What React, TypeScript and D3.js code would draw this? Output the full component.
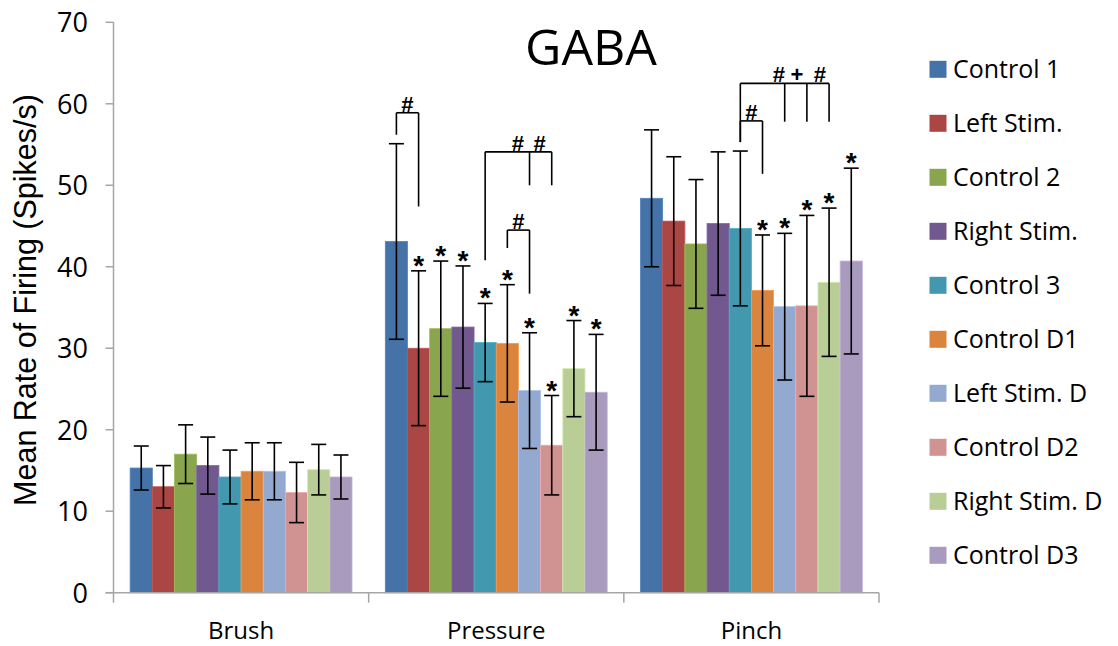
import React, { useEffect } from 'react';
import * as d3 from 'd3';

// categories / series
const categories = ['Brush', 'Pressure', 'Pinch'];
const seriesNames = [
  'Control 1', 'Left Stim.', 'Control 2', 'Right Stim.', 'Control 3',
  'Control D1', 'Left Stim. D', 'Control D2', 'Right Stim. D', 'Control D3',
];
const seriesColors = [
  '#4572A7', '#AA4643', '#89A54E', '#71588F', '#4198AF',
  '#DB843D', '#93A9CF', '#D19392', '#B9CD96', '#A99BBD',
];

// means and error (± s.d.) per category, in series order
const brushMeans = [15.3, 13.0, 17.0, 15.6, 14.2, 14.9, 14.9, 12.3, 15.1, 14.2];
const brushErr = [2.7, 2.6, 3.6, 3.5, 3.3, 3.5, 3.5, 3.7, 3.1, 2.7];
const pressureMeans = [43.1, 30.0, 32.4, 32.6, 30.7, 30.6, 24.8, 18.1, 27.5, 24.6];
const pressureErr = [12.0, 9.5, 8.3, 7.5, 4.8, 7.2, 7.1, 6.1, 5.9, 7.1];
const pinchMeans = [48.4, 45.6, 42.8, 45.3, 44.7, 37.1, 35.1, 35.2, 38.1, 40.7];
const pinchErr = [8.4, 7.9, 7.9, 8.8, 9.5, 6.8, 9.0, 11.1, 9.1, 11.4];

const yTicks = [0, 10, 20, 30, 40, 50, 60, 70];

// significance stars (series indices per category)
const brushStars: number[] = [];
const pressureStars = [1, 2, 3, 4, 5, 6, 7, 8, 9];
const pinchStars = [5, 6, 7, 8, 9];

// comparison brackets: legs go from `bottom` up to `top` (data units)
const pressureBrackets = [
  { top: 58.9, legs: [[0, 56.2], [1, 47.4]], labels: [[0.5, '#']] },
  { top: 54.1, legs: [[4, 40.8], [6, 50.0], [7, 50.0]], labels: [[5.47, '#'], [6.46, '#']] },
  { top: 44.5, legs: [[5, 42.3], [6, 36.7]], labels: [[5.5, '#']] },
];
const pinchBrackets = [
  { top: 62.5, legs: [[4, 55.3], [6, 57.8], [7, 57.8], [8, 57.8]], labels: [[5.74, '#'], [6.55, '+'], [7.59, '#']] },
  { top: 57.9, legs: [[4, 55.3], [5, 51.4]], labels: [[4.5, '#']] },
];

const groups = [
  { cat: categories[0], means: brushMeans, err: brushErr, stars: brushStars, brackets: [] as typeof pressureBrackets },
  { cat: categories[1], means: pressureMeans, err: pressureErr, stars: pressureStars, brackets: pressureBrackets },
  { cat: categories[2], means: pinchMeans, err: pinchErr, stars: pinchStars, brackets: pinchBrackets },
];

const W = 1118;
const H = 646;
const plot = { left: 113.5, right: 879, top: 22.3, bottom: 592.7 };
const axisColor = '#A6A6A6';
const sans = '"Open Sans", "Liberation Sans", sans-serif';
const arial = '"Liberation Sans", Arial, sans-serif';

export default function App() {
  useEffect(() => {
    document.body.style.margin = '0';
  }, []);

  const y = d3.scaleLinear().domain([0, 70]).range([plot.bottom, plot.top]);
  const x0 = d3.scaleBand<string>().domain(categories).range([plot.left, plot.right]);
  const x1 = d3.scaleBand<number>()
    .domain(d3.range(seriesNames.length))
    .range([0, x0.bandwidth()])
    .paddingInner(0)
    .paddingOuter(0.75);
  const bw = x1.bandwidth();
  const cx = (cat: string, f: number) => (x0(cat) as number) + (x1(0) as number) + (f + 0.5) * bw;
  const capHalf = 7.5;

  return (
    <svg width={W} height={H} style={{ display: 'block', background: '#fff' }}>
      {/* title */}
      <text x={591} y={65} textAnchor="middle" fontFamily={sans} fontSize={50} fill="#000">GABA</text>

      {/* y axis title */}
      <text
        transform="translate(36,300) rotate(-90)"
        textAnchor="middle"
        fontFamily={arial}
        fontSize={30.5}
        fill="#000"
      >
        Mean Rate of Firing (Spikes/s)
      </text>

      {/* y ticks */}
      {yTicks.map(t => (
        <g key={t}>
          <line x1={plot.left - 8} x2={plot.left} y1={y(t)} y2={y(t)} stroke={axisColor} strokeWidth={1.5} />
          <text x={88} y={y(t) + 10} textAnchor="end" fontFamily={sans} fontSize={27} fill="#000">{t}</text>
        </g>
      ))}

      {/* bars */}
      {groups.map(g => (
        <g key={g.cat}>
          {g.means.map((m, i) => (
            <rect
              key={i}
              x={(x0(g.cat) as number) + (x1(i) as number)}
              y={y(m)}
              width={bw}
              height={y(0) - y(m)}
              fill={seriesColors[i]}
              stroke={d3.color(seriesColors[i])!.brighter(0.4).toString()}
              strokeWidth={0.8}
            />
          ))}
        </g>
      ))}

      {/* axes lines */}
      <line x1={plot.left} x2={plot.left} y1={y(70)} y2={plot.bottom + 10} stroke={axisColor} strokeWidth={1.5} />
      <line x1={plot.left - 8} x2={plot.right} y1={plot.bottom} y2={plot.bottom} stroke={axisColor} strokeWidth={1.5} />
      {categories.map(c => (
        <line key={c} x1={(x0(c) as number) + x0.bandwidth()} x2={(x0(c) as number) + x0.bandwidth()}
          y1={plot.bottom} y2={plot.bottom + 10} stroke={axisColor} strokeWidth={1.5} />
      ))}
      {categories.map(c => (
        <text key={c} x={(x0(c) as number) + x0.bandwidth() / 2} y={639}
          textAnchor="middle" fontFamily={sans} fontSize={24} fill="#000">{c}</text>
      ))}

      {/* error bars */}
      {groups.map(g => (
        <g key={g.cat} stroke="#000" strokeWidth={1.6}>
          {g.means.map((m, i) => {
            const xc = cx(g.cat, i);
            const hi = y(m + g.err[i]);
            const lo = y(m - g.err[i]);
            return (
              <g key={i}>
                <line x1={xc} x2={xc} y1={hi} y2={lo} />
                <line x1={xc - capHalf} x2={xc + capHalf} y1={hi} y2={hi} />
                <line x1={xc - capHalf} x2={xc + capHalf} y1={lo} y2={lo} />
              </g>
            );
          })}
        </g>
      ))}

      {/* stars */}
      {groups.map(g => (
        <g key={g.cat}>
          {g.stars.map(i => (
            <text key={i} x={cx(g.cat, i)} y={y(g.means[i] + g.err[i]) + 4}
              textAnchor="middle" fontFamily={arial}
              fontWeight="bold" fontSize={28} fill="#000">*</text>
          ))}
        </g>
      ))}

      {/* brackets */}
      {groups.map(g => (
        <g key={g.cat}>
          {g.brackets.map((b, k) => {
            const xs = b.legs.map(l => cx(g.cat, l[0] as number));
            return (
              <g key={k}>
                <line x1={d3.min(xs)} x2={d3.max(xs)} y1={y(b.top)} y2={y(b.top)} stroke="#000" strokeWidth={1.6} />
                {b.legs.map((l, j) => (
                  <line key={j} x1={xs[j]} x2={xs[j]} y1={y(b.top)} y2={y(l[1] as number)} stroke="#000" strokeWidth={1.6} />
                ))}
                {b.labels.map((l, j) => (
                  <text key={j} x={cx(g.cat, l[0] as number)} y={y(b.top) - 1}
                    textAnchor="middle" fontFamily={arial}
                    fontWeight="bold" fontSize={22} fill="#000">{l[1]}</text>
                ))}
              </g>
            );
          })}
        </g>
      ))}

      {/* legend */}
      {seriesNames.map((s, i) => {
        const yc = 69.3 + i * 54;
        return (
          <g key={s}>
            <rect x={929.5} y={yc - 8.5} width={17} height={17} fill={seriesColors[i]} />
            <text x={953} y={yc + 8.5} fontFamily={sans} fontSize={25} fill="#000">{s}</text>
          </g>
        );
      })}
    </svg>
  );
}
